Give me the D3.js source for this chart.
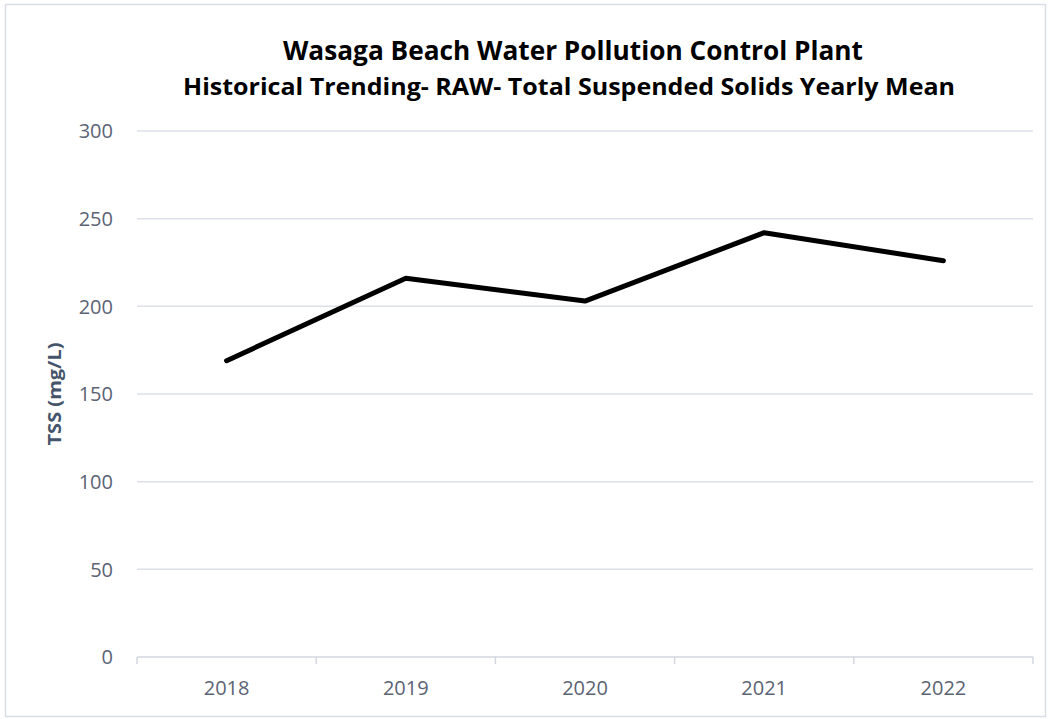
<!DOCTYPE html>
<html>
<head>
<meta charset="utf-8">
<script src="https://cdn.jsdelivr.net/npm/d3@7"></script>
<style>
  body { margin: 0; background: #fff; }
  svg text { font-family: "Open Sans", sans-serif; }
</style>
</head>
<body>
<div id="chart"></div>
<script>
var years = ["2018", "2019", "2020", "2021", "2022"];
var tssMean = [169, 216, 203, 242, 226];
var yTicks = [0, 50, 100, 150, 200, 250, 300];

var width = 1049;
var height = 719;
var margin = { left: 137, right: 16, top: 131, bottom: 62 };

var svg = d3.select("#chart").append("svg")
    .attr("width", width)
    .attr("height", height);

// frame
svg.append("rect")
    .attr("x", 5.5).attr("y", 4.5)
    .attr("width", width - 9).attr("height", height - 7)
    .attr("fill", "#fff")
    .attr("stroke", "#dadde6")
    .attr("stroke-width", 1.5);

var x = d3.scaleBand()
    .domain(years)
    .range([margin.left, width - margin.right]);

var y = d3.scaleLinear()
    .domain([0, 300])
    .range([height - margin.bottom, margin.top]);

// gridlines
svg.append("g")
    .selectAll("line")
    .data(yTicks.filter(function(d) { return d > 0; }))
    .enter().append("line")
    .attr("x1", margin.left)
    .attr("x2", width - margin.right)
    .attr("y1", function(d) { return y(d); })
    .attr("y2", function(d) { return y(d); })
    .attr("stroke", "#dde0e8")
    .attr("stroke-width", 1.5);

// y labels
svg.append("g")
    .selectAll("text")
    .data(yTicks)
    .enter().append("text")
    .attr("x", 113)
    .attr("y", function(d) { return y(d); })
    .attr("dy", "0.36em")
    .attr("text-anchor", "end")
    .attr("fill", "#5b6374")
    .style("font-size", "20px")
    .text(function(d) { return d; });

// x axis
var xAxis = svg.append("g")
    .attr("transform", "translate(0," + y(0) + ")");

xAxis.append("line")
    .attr("x1", margin.left)
    .attr("x2", width - margin.right)
    .attr("stroke", "#d3d7e0")
    .attr("stroke-width", 1.5);

var bounds = years.map(function(d) { return x(d); }).concat([width - margin.right]);
xAxis.selectAll("line.tick")
    .data(bounds)
    .enter().append("line")
    .attr("class", "tick")
    .attr("x1", function(d) { return d; })
    .attr("x2", function(d) { return d; })
    .attr("y1", 0).attr("y2", 7)
    .attr("stroke", "#d3d7e0")
    .attr("stroke-width", 1.5);

xAxis.selectAll("text")
    .data(years)
    .enter().append("text")
    .attr("x", function(d) { return x(d) + x.bandwidth() / 2; })
    .attr("y", 38)
    .attr("text-anchor", "middle")
    .attr("fill", "#5b6374")
    .style("font-size", "20px")
    .text(function(d) { return d; });

// y axis title
svg.append("text")
    .attr("transform", "translate(61,394) rotate(-90)")
    .attr("text-anchor", "middle")
    .attr("textLength", 103)
    .attr("lengthAdjust", "spacingAndGlyphs")
    .attr("fill", "#44546a")
    .style("font-weight", "bold")
    .style("font-size", "17px")
    .text("TSS (mg/L)");

// titles
svg.append("text")
    .attr("x", 573).attr("y", 60)
    .attr("text-anchor", "middle")
    .attr("textLength", 580)
    .attr("lengthAdjust", "spacingAndGlyphs")
    .attr("fill", "#000")
    .style("font-weight", "bold")
    .style("font-size", "27px")
    .text("Wasaga Beach Water Pollution Control Plant");

svg.append("text")
    .attr("x", 569).attr("y", 95)
    .attr("text-anchor", "middle")
    .attr("textLength", 772)
    .attr("lengthAdjust", "spacingAndGlyphs")
    .attr("fill", "#000")
    .style("font-weight", "bold")
    .style("font-size", "24px")
    .text("Historical Trending- RAW- Total Suspended Solids Yearly Mean");

// line
var line = d3.line()
    .x(function(d, i) { return x(years[i]) + x.bandwidth() / 2; })
    .y(function(d) { return y(d); });

svg.append("path")
    .datum(tssMean)
    .attr("d", line)
    .attr("fill", "none")
    .attr("stroke", "#000")
    .attr("stroke-width", 5)
    .attr("stroke-linecap", "round")
    .attr("stroke-linejoin", "round");
</script>
</body>
</html>
